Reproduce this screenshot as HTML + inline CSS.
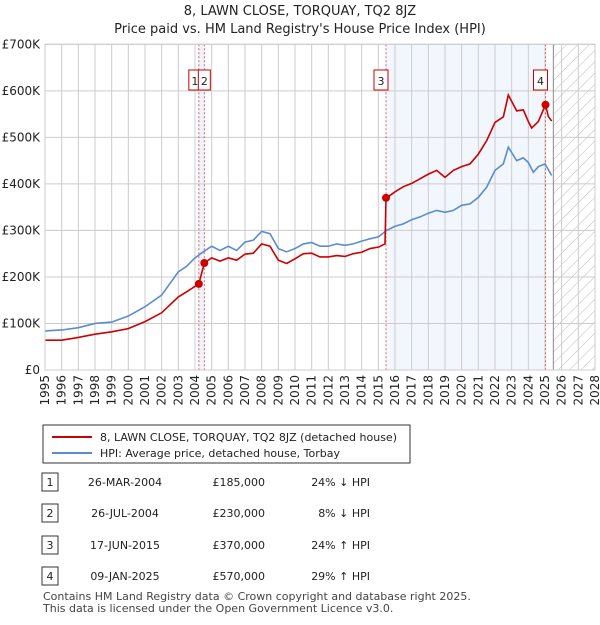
<!DOCTYPE html>
<html><head><meta charset="utf-8"><style>
body{margin:0;background:#fff;font-family:"Liberation Sans","DejaVu Sans",sans-serif;}
svg text{font-family:"DejaVu Sans","Liberation Sans",sans-serif;}
</style></head><body>
<svg id="c" width="600" height="620" xmlns="http://www.w3.org/2000/svg">
<defs><pattern id="hatch" width="8" height="8" patternUnits="userSpaceOnUse" patternTransform="rotate(45)"><line x1="0" y1="0" x2="0" y2="8" stroke="#bbb" stroke-width="1"/></pattern></defs>
<text x="300" y="15" text-anchor="middle" font-size="13" fill="#222">8, LAWN CLOSE, TORQUAY, TQ2 8JZ</text>
<text x="300" y="33" text-anchor="middle" font-size="13" fill="#222">Price paid vs. HM Land Registry's House Price Index (HPI)</text>
<g id="plot"></g>
<g id="legend">
<rect x="43" y="425" width="367" height="38" fill="#fff" stroke="#333"/>
<line x1="52" y1="437" x2="92" y2="437" stroke="#cc0000" stroke-width="2"/>
<text x="100" y="441" font-size="11" fill="#222">8, LAWN CLOSE, TORQUAY, TQ2 8JZ (detached house)</text>
<line x1="52" y1="453" x2="92" y2="453" stroke="#5b8bd0" stroke-width="2"/>
<text x="100" y="457" font-size="11" fill="#222">HPI: Average price, detached house, Torbay</text>
</g>
<g id="table" font-size="11" fill="#222"></g>
<text x="43" y="600" font-size="11" fill="#444">Contains HM Land Registry data © Crown copyright and database right 2025.</text>
<text x="43" y="612" font-size="11" fill="#444">This data is licensed under the Open Government Licence v3.0.</text>
</svg>
<script>
const hpiYears=[1995,1996,1997,1998,1999,2000,2001,2002,2003,2003.5,2004,2004.5,2005,2005.5,2006,2006.5,2007,2007.5,2008,2008.5,2009,2009.5,2010,2010.5,2011,2011.5,2012,2012.5,2013,2013.5,2014,2014.5,2015,2015.5,2016,2016.5,2017,2017.5,2018,2018.5,2019,2019.5,2020,2020.5,2021,2021.5,2022,2022.5,2022.8,2023.3,2023.7,2024,2024.3,2024.6,2025,2025.4];
const hpiValues=[84,86,91,100,103,116,136,161,211,223,241,254,266,257,266,257,275,279,298,293,261,254,261,271,274,266,266,271,268,271,277,282,286,300,309,314,323,329,337,343,339,343,354,357,371,393,429,443,479,450,456,446,425,437,443,418];
const redYears=[1995,1996,1997,1998,1999,2000,2001,2002,2003,2003.5,2004.23,2004.56,2005,2005.5,2006,2006.5,2007,2007.5,2008,2008.5,2009,2009.5,2010,2010.5,2011,2011.5,2012,2012.5,2013,2013.5,2014,2014.5,2015,2015.4,2015.46,2016,2016.5,2017,2017.5,2018,2018.5,2019,2019.5,2020,2020.5,2021,2021.5,2022,2022.5,2022.8,2023.3,2023.7,2024,2024.2,2024.6,2025.03,2025.2,2025.4];
const redValues=[64,64,70,77,82,89,104,123,157,168,185,230,241,234,241,236,249,251,271,266,236,229,239,250,251,243,243,246,244,250,253,261,264,271,369,383,394,401,411,421,429,414,429,437,443,464,493,532,544,591,557,559,534,520,534,570,545,535];
const saleLabels=["1","2","3","4"];
const saleDates=["26-MAR-2004","26-JUL-2004","17-JUN-2015","09-JAN-2025"];
const saleYears=[2004.23,2004.56,2015.46,2025.03];
const salePrices=[185,230,370,570];
const salePriceText=["£185,000","£230,000","£370,000","£570,000"];
const saleHpiText=["24% ↓ HPI","8% ↓ HPI","24% ↑ HPI","29% ↑ HPI"];
const yTicks=[0,100,200,300,400,500,600,700];
const yTickLabels=["£0","£100K","£200K","£300K","£400K","£500K","£600K","£700K"];
const xTicks=[1995,1996,1997,1998,1999,2000,2001,2002,2003,2004,2005,2006,2007,2008,2009,2010,2011,2012,2013,2014,2015,2016,2017,2018,2019,2020,2021,2022,2023,2024,2025,2026,2027,2028];

const X0=45,X1=595,Y0=370,Y1=44.3;
const x=y=>X0+(y-1995)/(2028-1995)*(X1-X0);
const yv=v=>Y0-v/700*(Y0-Y1);
const NS="http://www.w3.org/2000/svg";
const plot=document.getElementById('plot');
function mk(tag,attrs,parent){const e=document.createElementNS(NS,tag);for(const k in attrs)e.setAttribute(k,attrs[k]);(parent||plot).appendChild(e);return e;}
let e;
e=mk('rect',{x:x(saleYears[0]),y:Y1,width:x(saleYears[1])-x(saleYears[0]),height:Y0-Y1,fill:'#eef3fc'});


e=mk('rect',{x:x(saleYears[2]),y:Y1,width:x(saleYears[3])-x(saleYears[2]),height:Y0-Y1,fill:'#f2f6fd'});


e=mk('rect',{x:x(2025.5),y:Y1,width:X1-x(2025.5),height:Y0-Y1,fill:'url(#hatch)'});


yTicks.forEach((t,i)=>{
 e=mk('line',{x1:X0,x2:X1,y1:yv(t),y2:yv(t),stroke:'#ccc'});
 
 
 e=mk('text',{x:40,y:yv(t)+4,'text-anchor':'end','font-size':12,fill:'#222'});
 e.textContent=yTickLabels[i];
 
 
});
xTicks.forEach(t=>{
 e=mk('line',{x1:x(t),x2:x(t),y1:Y1,y2:Y0,stroke:'#ccc'});
 
 
 e=mk('text',{transform:`translate(${x(t)+4},375) rotate(-90)`,'text-anchor':'end','font-size':12,fill:'#222'});
 e.textContent=t;
 
 
});
e=mk('line',{x1:x(2025.5),x2:x(2025.5),y1:Y1,y2:Y0,stroke:'#888'});


saleYears.forEach((s,i)=>{
 e=mk('line',{x1:x(s),x2:x(s),y1:Y1,y2:Y0,stroke:'#e06060','stroke-dasharray':'2,2'});
 
 
});
e=mk('polyline',{points:hpiYears.map((t,i)=>x(t)+','+yv(hpiValues[i])).join(' '),fill:'none',stroke:'#5b8bd0','stroke-width':1.6});


e=mk('polyline',{points:redYears.map((t,i)=>x(t)+','+yv(redValues[i])).join(' '),fill:'none',stroke:'#cc0000','stroke-width':1.6});


saleYears.forEach((s,i)=>{
 e=mk('circle',{cx:x(s),cy:yv(salePrices[i]),r:4,fill:'#cc0000'});
 
 
 const bx=x(s)-(i==0?12:(i==1?0:(i==3?7:7)));
 const w=i<2?13:14;
 e=mk('rect',{x:i==0?x(s)-10:(i==1?x(s)-6:x(s)-12),y:70,width:i<2?12:14,height:20,fill:'#fff',stroke:'#cc0000'});
 
 
 e=mk('text',{x:i==0?x(s)-4:(i==1?x(s):x(s)-5),y:85,'text-anchor':'middle','font-size':11,fill:'#222'});
 e.textContent=saleLabels[i];
 
 
});
e=mk('rect',{x:X0,y:Y1,width:X1-X0,height:Y0-Y1,fill:'none',stroke:'#ccc'});


const tb=document.getElementById('table');
const rowsY=[482,513,545,576];
saleLabels.forEach((l,i)=>{
 const ry=rowsY[i];
 e=mk('rect',{x:42,y:ry-9,width:16,height:18,fill:'#fff',stroke:'#333'},tb);
 
 
 e=mk('text',{x:50,y:ry+4,'text-anchor':'middle'},tb);e.textContent=l;
 
 
 e=mk('text',{x:125,y:ry+4,'text-anchor':'middle'},tb);e.textContent=saleDates[i];
 
 
 e=mk('text',{x:265,y:ry+4,'text-anchor':'end'},tb);e.textContent=salePriceText[i];
 
 
 e=mk('text',{x:370,y:ry+4,'text-anchor':'end'},tb);e.textContent=saleHpiText[i];
 
 
});
</script>
</body></html>
